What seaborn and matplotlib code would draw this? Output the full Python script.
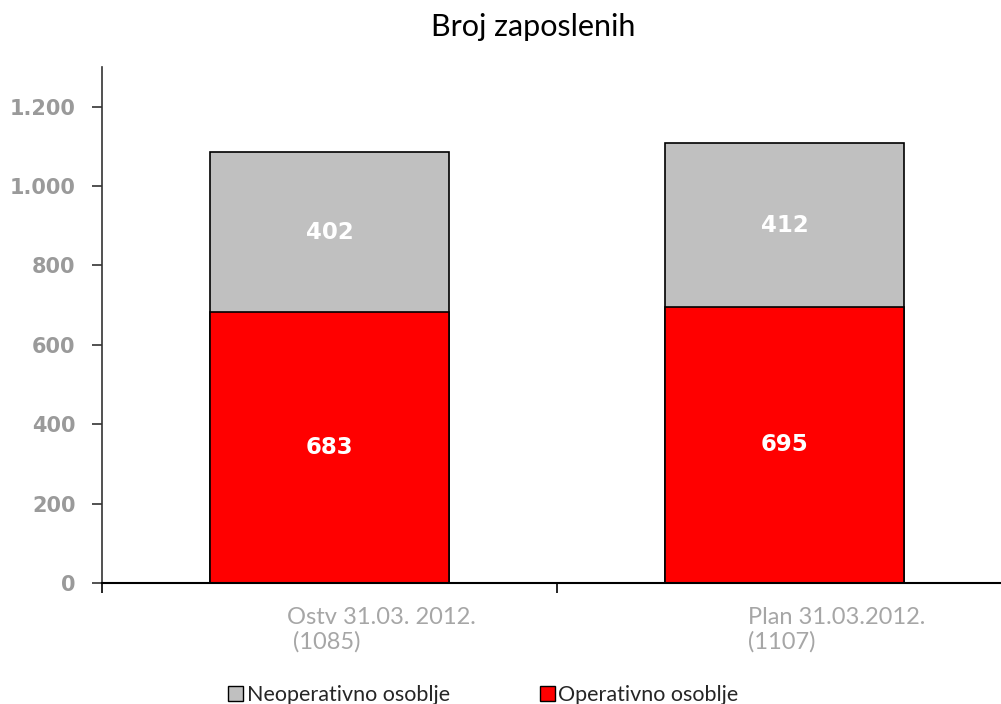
import matplotlib
matplotlib.use("Agg")
import matplotlib.pyplot as plt
import matplotlib.transforms as mtransforms
from matplotlib.patches import Patch
from matplotlib.ticker import FuncFormatter, FixedLocator
import seaborn as sns
import pandas as pd

# data
categories = ["Ostv 31.03. 2012.\n (1085)", "Plan 31.03.2012.\n(1107)"]
operativno = [683, 695]
neoperativno = [402, 412]

sns.set_theme(style="white")
plt.rcParams['font.family'] = ['Lato', 'DejaVu Sans']

df = pd.DataFrame({"kat": categories, "op": operativno, "neop": neoperativno})
df["ukupno"] = df["op"] + df["neop"]

fig = plt.figure(figsize=(10.01, 7.04), dpi=100)
ax = fig.add_axes([0.102, 0.172, 0.909, 0.733])

# stacked bars: total in grey behind, operativno in red on top
sns.barplot(data=df, x="kat", y="ukupno", color="#c0c0c0", width=0.525,
            edgecolor="black", linewidth=1.2, saturation=1, ax=ax)
sns.barplot(data=df, x="kat", y="op", color="#ff0000", width=0.525,
            edgecolor="black", linewidth=1.2, saturation=1, ax=ax)

# value labels inside the segments
for i, row in df.iterrows():
    ax.text(i, row["op"] / 2, f"{row['op']}", ha="center", va="center",
            color="white", fontsize=16.5, fontweight="bold", family="DejaVu Sans")
    ax.text(i, row["op"] + row["neop"] / 2, f"{row['neop']}", ha="center", va="center",
            color="white", fontsize=16.5, fontweight="bold", family="DejaVu Sans")

ax.set_xlim(-0.5, 1.5)
ax.set_ylim(0, 1300)
ax.set_yticks([0, 200, 400, 600, 800, 1000, 1200])
ax.yaxis.set_major_formatter(FuncFormatter(lambda v, p: f"{int(v):,}".replace(",", ".")))
ax.set_xlabel("")
ax.set_ylabel("")

for s in ["top", "right"]:
    ax.spines[s].set_visible(False)
ax.spines["left"].set_color("#333333")
ax.spines["bottom"].set_color("black")
ax.spines["left"].set_linewidth(1.2)
ax.spines["bottom"].set_linewidth(1.5)

ax.tick_params(axis="y", which="major", direction="out", length=7, width=1.2,
               color="#333333", left=True, labelsize=15, labelcolor="#9a9a9a", pad=12)
for lbl in ax.get_yticklabels():
    lbl.set_fontweight("bold")
    lbl.set_family("DejaVu Sans")

ax.xaxis.set_minor_locator(FixedLocator([-0.5, 0.5, 1.5]))
ax.tick_params(axis="x", which="major", length=0, labelsize=17, labelcolor="#a6a6a6", pad=17)
ax.tick_params(axis="x", which="minor", bottom=True, direction="out", length=7, width=1.2, color="black")
shift = mtransforms.ScaledTranslation(0.52, 0, fig.dpi_scale_trans)
for lbl in ax.get_xticklabels():
    lbl.set_multialignment("left")
    lbl.set_transform(lbl.get_transform() + shift)

fig.text(0.533, 0.962, "Broj zaposlenih", ha="center", va="center", fontsize=22, color="black")

handles = [Patch(facecolor="#c0c0c0", edgecolor="black", linewidth=1.0),
           Patch(facecolor="#ff0000", edgecolor="black", linewidth=1.0)]
fig.legend(handles, ["Neoperativno osoblje", "Operativno osoblje"], loc="center left",
           bbox_to_anchor=(0.228, 0.013), ncol=2, frameon=False, fontsize=15.5,
           handlelength=0.7, handleheight=0.7, handletextpad=0.15, columnspacing=4.2,
           borderpad=0, borderaxespad=0)

fig.savefig("out.png", dpi=100)
